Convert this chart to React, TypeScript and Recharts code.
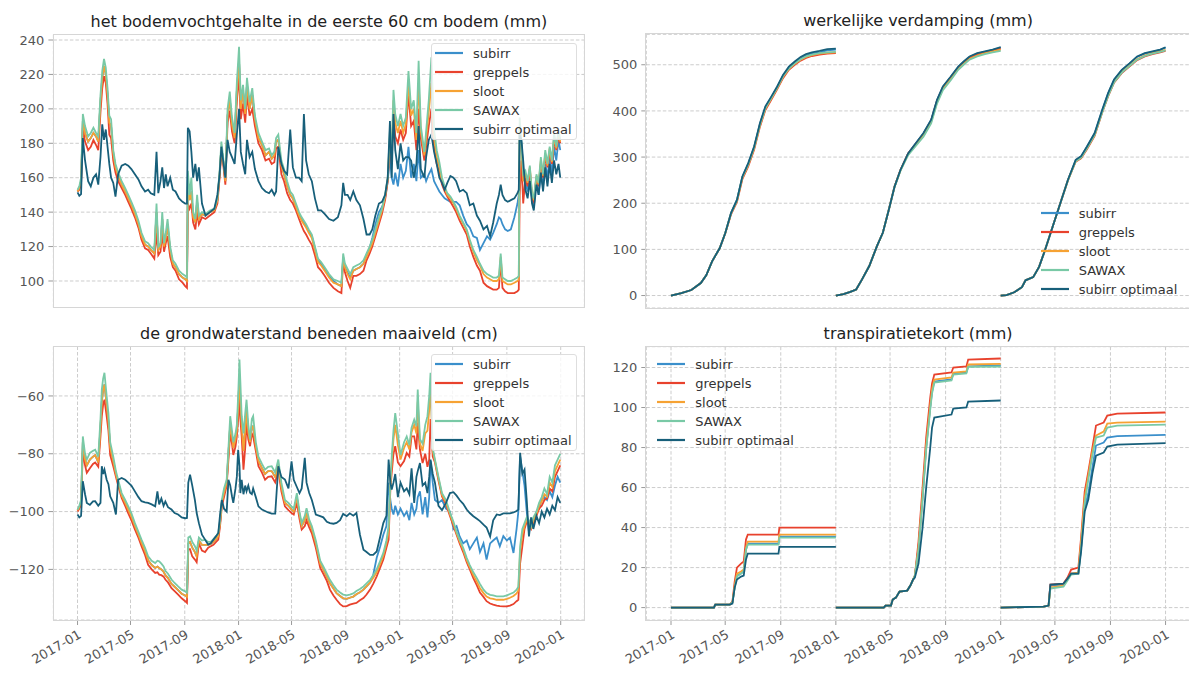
import React from 'react';
import { LineChart, Line, XAxis, YAxis, CartesianGrid } from 'recharts';

const FONT = '"DejaVu Sans", sans-serif';
const GRID = '#cccccc';
const TICK = '#555555';

const SERIES = [
  { key: 'subirr', name: 'subirr', color: '#3a8fcb' },
  { key: 'greppels', name: 'greppels', color: '#e8422d' },
  { key: 'sloot', name: 'sloot', color: '#f6a233' },
  { key: 'sawax', name: 'SAWAX', color: '#79c9a6' },
  { key: 'optimaal', name: 'subirr optimaal', color: '#175f7a' },
];

const monthLabels = ['2017-01', '2017-05', '2017-09', '2018-01', '2018-05', '2018-09', '2019-01', '2019-05', '2019-09', '2020-01'];
const seasons = [2017, 2018, 2019];

// soil moisture in the top 60 cm (mm), days since 2017-01-01
const soilDays = [
  0, 4, 8, 12, 17, 24, 30, 36, 42, 47,
  52, 56, 60, 64, 68, 72, 76, 81, 86, 92,
  100, 108, 115, 122, 130, 138, 145, 153, 160, 166,
  174, 179, 183, 188, 192, 196, 200, 204, 210, 216,
  222, 230, 238, 244, 248, 250, 254, 258, 262, 267,
  271, 275, 282, 290, 300, 310, 317, 322, 326, 330,
  335, 340, 345, 350, 356, 361, 366, 370, 375, 380,
  384, 390, 396, 402, 410, 418, 426, 434, 440, 446,
  450, 455, 462, 468, 475, 482, 488, 495, 502, 508,
  513, 518, 524, 531, 538, 545, 552, 560, 570, 580,
  590, 598, 602, 606, 612, 618, 625, 632, 640, 648,
  655, 662, 668, 675, 683, 690, 697, 703, 708, 712,
  716, 720, 726, 732, 738, 744, 750, 756, 762, 768,
  773, 778, 786, 790, 796, 802, 808, 814, 820, 826,
  832, 838, 845, 852, 858, 866, 874, 882, 889, 897,
  905, 912, 920, 928, 935, 942, 950, 955, 959, 963,
  969, 975, 982, 990, 997, 1000, 1002, 1006, 1010, 1015,
  1020, 1025, 1030, 1034, 1040, 1045, 1050, 1055, 1060, 1065,
  1070, 1075, 1080, 1085, 1090, 1094,
];
const soilSubirr = [
  152, 154, 158, 193, 186, 181, 183, 186, 184, 181,
  204, 218, 225, 220, 208, 192, 190, 174, 166, 161,
  156, 152, 148, 144, 139, 133, 126, 121, 120, 118,
  116, 140, 118, 120, 136, 120, 125, 132, 118, 110,
  108, 104, 102, 101, 100, 155, 147, 152, 137, 134,
  146, 136, 139, 138, 140, 141, 147, 162, 178, 170,
  158, 196, 206, 191, 183, 210, 228, 200, 210, 197,
  214, 200, 208, 194, 183, 179, 173, 175, 171, 173,
  181, 182, 167, 162, 155, 150, 148, 143, 138, 136,
  134, 132, 129, 126, 119, 112, 110, 107, 103, 100,
  98, 97, 114, 108, 105, 102, 106, 107, 108, 110,
  115, 119, 125, 133, 140, 143, 148, 158, 172, 160,
  156, 163, 155, 168, 160, 164, 178, 160, 168, 158,
  176, 160, 162, 158, 162, 165, 158, 155, 152, 150,
  148, 147, 146, 146, 146, 144, 138, 133, 131, 126,
  125, 118, 122, 126, 124, 128, 133, 137, 136, 133,
  130, 129, 130, 137, 145, 150, 188, 180, 165, 158,
  152, 160, 148, 143, 158, 150, 163, 155, 168, 160,
  172, 162, 178, 170, 182, 176,
];
const soilGreppels = [
  152, 153, 156, 189, 181, 176, 178, 182, 179, 176,
  198, 212, 219, 215, 203, 185, 183, 170, 163, 158,
  154, 150, 146, 142, 137, 131, 124, 119, 118, 116,
  113, 128, 115, 117, 128, 117, 122, 126, 114, 108,
  106, 101, 99, 97, 96, 145, 142, 145, 134, 130,
  140, 133, 137, 136, 138, 140, 145, 160, 175, 168,
  156, 192, 199, 187, 180, 204, 220, 194, 203, 192,
  208, 196, 200, 190, 180, 176, 170, 171, 168, 169,
  177, 178, 162, 158, 151, 147, 145, 141, 136, 132,
  129, 127, 124, 121, 115, 108, 106, 103, 99, 96,
  94, 93, 112, 105, 100, 96, 103, 103, 104, 106,
  112, 116, 120, 126, 133, 139, 147, 158, 180, 168,
  199, 184, 180, 188, 182, 186, 209, 190, 193, 176,
  200, 183, 170, 178, 190, 200, 178, 168, 163, 156,
  152, 149, 146, 143, 140, 135, 131, 127, 120, 114,
  109, 106, 99, 97, 96, 95, 95, 96, 112, 96,
  94, 93, 93, 93, 94, 95, 150, 170, 145, 160,
  155, 165, 148, 146, 160, 155, 168, 160, 172, 166,
  175, 168, 182, 176, 184, 180,
];
const soilSloot = [
  152, 154, 158, 193, 186, 181, 183, 186, 184, 181,
  204, 218, 225, 220, 208, 192, 190, 174, 166, 161,
  156, 152, 148, 144, 139, 133, 126, 121, 120, 118,
  116, 140, 118, 120, 136, 120, 125, 132, 118, 110,
  108, 104, 102, 101, 100, 155, 147, 152, 137, 134,
  146, 136, 139, 138, 140, 141, 147, 162, 178, 170,
  158, 196, 206, 191, 183, 210, 228, 200, 210, 197,
  214, 200, 208, 194, 183, 179, 173, 175, 171, 173,
  181, 182, 167, 162, 155, 150, 148, 143, 138, 135,
  133, 131, 128, 125, 118, 111, 109, 106, 102, 99,
  98, 97, 113, 108, 104, 101, 106, 107, 108, 110,
  114, 118, 122, 128, 135, 141, 149, 159, 184, 172,
  205, 192, 186, 193, 186, 191, 215, 196, 200, 182,
  215, 187, 173, 183, 198, 215, 183, 172, 166, 158,
  154, 150, 148, 145, 142, 137, 133, 129, 123, 117,
  112, 109, 104, 102, 101, 100, 100, 101, 114, 100,
  99, 98, 98, 99, 100, 101, 190, 178, 158, 162,
  157, 166, 150, 147, 161, 156, 170, 161, 174, 167,
  177, 169, 184, 177, 186, 181,
];
const soilSawax = [
  153, 155, 160, 197, 190, 184, 186, 189, 186, 184,
  208, 222, 229, 224, 212, 196, 194, 176, 168, 163,
  158, 154, 150, 146, 141, 135, 128, 123, 122, 120,
  118, 145, 120, 122, 140, 122, 128, 136, 120, 112,
  110, 106, 104, 103, 102, 164, 150, 160, 140, 136,
  150, 138, 140, 139, 141, 142, 148, 164, 181, 172,
  160, 200, 210, 195, 186, 215, 236, 205, 214, 200,
  218, 204, 212, 196, 186, 181, 176, 177, 173, 175,
  183, 185, 170, 165, 158, 152, 150, 145, 140, 137,
  135, 133, 130, 127, 120, 113, 111, 108, 104, 101,
  100, 99, 116, 110, 107, 104, 108, 109, 110, 112,
  116, 120, 124, 130, 137, 142, 150, 160, 188, 175,
  211, 197, 190, 197, 190, 195, 222, 200, 205, 186,
  228, 190, 175, 187, 205, 230, 188, 176, 169, 160,
  155, 151, 149, 146, 143, 138, 134, 130, 124, 118,
  114, 110, 106, 104, 103, 102, 102, 103, 116, 102,
  101, 100, 100, 101, 102, 103, 195, 180, 162, 164,
  158, 167, 151, 148, 162, 157, 172, 162, 176, 168,
  178, 170, 186, 178, 188, 182,
];
const soilOptimaal = [
  151.5, 149.5, 150.5, 183, 170, 158, 155, 160, 162, 156,
  172, 191, 182, 188, 178, 168, 160, 157, 149, 162,
  167, 168, 167, 165, 162, 159, 155, 152, 153, 151,
  150, 175, 151, 158, 166, 154, 162, 155, 160, 153,
  152, 148, 146, 145, 145, 189, 187, 175, 160, 168,
  158, 166, 145, 138, 140, 142, 150, 162, 178, 170,
  160, 182, 175, 172, 168, 185, 200, 175, 168, 162,
  182, 172, 175, 165, 158, 154, 152, 151, 153, 150,
  152, 178, 168, 164, 162, 188, 166, 160, 160, 158,
  197, 170, 162, 158, 148, 141, 141, 139, 136, 135,
  137, 144, 157, 150, 150, 147, 152, 147, 144, 136,
  127, 127, 130, 138, 145, 146, 150, 160, 193, 160,
  197, 176, 165, 180, 170, 172, 172, 170, 160, 168,
  190, 165, 160, 172, 182, 185, 175, 168, 160, 157,
  153, 157, 161, 160, 158, 152, 153, 151, 144, 145,
  138, 135, 130, 132, 126, 134, 145, 150, 156, 150,
  147, 146, 147, 148, 151, 153, 185, 182, 170, 153,
  148, 158, 145, 141, 156, 150, 163, 152, 166, 155,
  168, 157, 170, 162, 168, 160,
];

// groundwater level below surface (cm), days since 2017-01-01
const gwDays = [
  0, 4, 8, 12, 17, 21, 28, 35, 40, 47,
  52, 55, 58, 61, 66, 70, 74, 81, 87, 92,
  100, 108, 115, 122, 130, 138, 145, 153, 160, 168,
  176, 181, 185, 190, 195, 199, 205, 213, 220, 228,
  236, 244, 248, 251, 255, 260, 266, 270, 275, 282,
  289, 296, 302, 308, 314, 319, 323, 327, 332, 338,
  342, 346, 350, 353, 358, 361, 364, 367, 369, 372,
  376, 380, 383, 387, 391, 395, 398, 404, 410, 418,
  425, 432, 440, 448, 455, 462, 470, 478, 485, 490,
  497, 503, 508, 515, 519, 525, 531, 540, 550, 557,
  565, 572, 580, 587, 595, 602, 610, 617, 625, 632,
  640, 648, 655, 663, 670, 678, 686, 693, 700, 705,
  709, 712, 716, 720, 726, 732, 740, 746, 752, 757,
  763, 768, 771, 776, 782, 788, 793, 797, 800, 805,
  810, 818, 826, 835, 844, 852, 859, 866, 874, 882,
  889, 897, 905, 912, 920, 927, 935, 942, 950, 957,
  965, 973, 980, 988, 995, 999, 1003, 1008, 1013, 1018,
  1023, 1028, 1033, 1040, 1046, 1052, 1058, 1064, 1070, 1076,
  1082, 1088, 1094,
];
const gwSubirr = [
  -99.6, -98.5, -96.7, -76, -82, -84, -82, -81, -80.5, -83,
  -71, -62, -58, -56, -63, -69, -78, -82.5, -87, -90,
  -94.5, -97, -99.4, -101.7, -105, -108, -110.8, -113.7, -116.8, -118.5,
  -119.5, -119, -119.5, -120, -120.8, -122, -123, -125, -126, -127.2,
  -128.4, -129, -129.5, -111, -110.5, -112.5, -114, -115.5, -110, -111.5,
  -111.5, -111.5, -111.2, -110.5, -109.5, -108.5, -104, -97, -93.5, -90,
  -80, -70, -74, -78, -75, -72, -64, -53, -61, -70,
  -79, -72, -65, -72.5, -76, -70.5, -70.5, -77.5, -82.5, -85,
  -87, -86, -86, -88, -84, -91.5, -97, -98, -99.3, -100,
  -95, -101, -105, -103, -100.5, -104, -106, -111, -118, -120,
  -122.5, -124.8, -126.6, -128.2, -129.2, -130, -130.2, -129.8, -129.4, -128.6,
  -127.9, -127, -125.9, -124.5, -122, -116, -112, -108, -105, -90,
  -96, -99, -101, -98, -101, -99, -101.5, -100, -103, -97,
  -101, -99, -95, -93, -101, -95, -102, -95, -82.5, -90,
  -96, -97, -96, -99, -100, -106, -105, -108.6, -111, -110,
  -113, -111, -109, -114, -111, -116.6, -111, -110, -109, -112,
  -108.5, -110, -109, -114.3, -106, -100, -81, -86, -91, -100,
  -107, -103, -105, -100, -99, -96, -95, -96, -93, -95,
  -91, -88, -90,
];
const gwGreppels = [
  -100, -99, -97.5, -79, -84, -86.6, -85, -83.5, -83, -84.5,
  -74, -67, -63, -61.3, -67, -72, -80.5, -84.3, -88, -91,
  -95.3, -98, -100.6, -103, -106.2, -109, -112, -115, -118.4, -120,
  -121.2, -121, -121.8, -122, -122.5, -123.5, -124.5, -126.5, -127.5, -128.7,
  -130, -131, -131.6, -113, -113, -115.5, -116.6, -117.5, -111, -113.5,
  -114, -112.5, -112, -111.5, -110.5, -109.7, -105, -98.2, -95, -91,
  -82, -72.6, -76.5, -80.4, -77.5, -74, -68, -60, -68, -74,
  -85.5, -78, -69.3, -75, -77.4, -73, -74, -79, -84.3, -86.5,
  -89, -88, -87.8, -89.9, -85.5, -93, -98.2, -99.5, -100.5, -101,
  -97, -102.5, -106.2, -105, -103, -105.5, -107.5, -112.5, -119.5, -121.5,
  -124, -127, -129, -130.5, -132, -132.8, -132.7, -132.2, -131.8, -131.6,
  -130.7, -129.9, -128.7, -127, -125, -122.4, -119.3, -116.6, -112.5, -109.7,
  -92, -86.6, -80, -77.4, -83, -84.3, -82.5, -79.7, -81, -74,
  -74, -78.5, -69.3, -78.6, -83.2, -80, -84.5, -82, -68, -81,
  -83, -89.3, -94.8, -97.5, -101.5, -105, -108, -111, -114, -117.5,
  -120, -123, -125.5, -128, -129.5, -131, -131.8, -132.2, -132.5, -132.7,
  -132.8, -132.8, -132.5, -132, -131, -130.5, -118, -112, -106, -103.5,
  -104.5, -106, -104, -101.5, -99, -98, -96, -95.5, -92, -93,
  -88, -86, -84,
];
const gwSloot = [
  -99.6, -98.5, -96.7, -76, -82, -84, -82, -81, -80.5, -83,
  -71, -62, -58, -56, -63, -69, -78, -82.5, -87, -90,
  -94.5, -97, -99.4, -101.7, -105, -108, -110.8, -113.7, -116.8, -118.5,
  -119.5, -119, -119.5, -120, -120.8, -122, -123, -125, -126, -127.2,
  -128.4, -129, -129.5, -111, -110.5, -112.5, -114, -115.5, -110, -111.5,
  -111.5, -111.5, -111.2, -110.5, -109.5, -108.5, -104, -97, -93.5, -90,
  -80, -70, -74, -78, -75, -72, -64, -53, -61, -70,
  -79, -72, -65, -72.5, -76, -70.5, -70.5, -77.5, -82.5, -85,
  -87, -86, -86, -88, -84, -91.5, -97, -98, -99.3, -100,
  -95, -101, -105, -103, -100.5, -104, -106, -111, -118, -120,
  -122.5, -124.8, -126.6, -128.2, -129.2, -130, -130.2, -129.8, -129.4, -128.6,
  -127.9, -127, -125.9, -124.5, -123, -121, -118, -115.3, -111, -107,
  -91, -83, -75, -70, -77, -82, -78, -76, -78.5, -72.5,
  -70, -73, -62, -76.5, -79, -73, -72, -65, -57, -79,
  -82.5, -88.6, -94.2, -96.8, -100.9, -104.2, -107.5, -110.3, -113.2, -116.8,
  -119.2, -122, -124.2, -126.5, -128.2, -129.4, -130, -130.2, -130.5, -130.5,
  -130.5, -130.2, -129.8, -129.2, -128.3, -127.3, -114, -108, -105, -102.8,
  -103.8, -105.5, -103, -100.8, -98, -96.5, -94, -94.8, -90, -91.5,
  -86, -84, -82,
];
const gwSawax = [
  -99.3, -98, -96, -74, -80, -82, -79.7, -79, -78.6, -81,
  -68, -57.8, -54, -52, -60, -66, -76, -81, -86, -89,
  -93.6, -96, -98.2, -100.5, -104, -107, -109.7, -112.5, -115.5, -117,
  -117.8, -117, -117.2, -118, -119, -120.5, -121.5, -123.5, -124.7, -125.9,
  -127, -127.6, -128, -109, -108.6, -110.5, -112, -113.5, -109, -110,
  -109.7, -110.5, -110.5, -109.5, -108.5, -107.4, -103, -96, -92, -89,
  -78, -67, -72, -76, -73, -70, -60, -47.4, -55, -67,
  -73, -66, -61.3, -70, -75, -68, -67, -76, -81, -83.5,
  -85.5, -84.5, -84.3, -86.5, -82, -90, -96, -97, -98.2, -99,
  -93.6, -100, -104, -101.5, -98.8, -102.8, -105, -110, -117, -119,
  -121.5, -123.6, -125.5, -127, -128, -128.7, -129, -128.7, -128.3, -127.5,
  -126.8, -125.9, -124.8, -123.6, -122, -120, -117, -114.3, -110, -105,
  -90, -81, -72, -65.9, -73, -80.4, -76, -74, -77, -71,
  -68.2, -70.5, -57.8, -75, -76.5, -70, -67, -60, -52, -78,
  -82, -88, -93.6, -96, -100.3, -103.5, -107, -109.7, -112.5, -116,
  -118.5, -121, -123, -125, -127, -128.2, -128.8, -129, -129.3, -129.3,
  -129.3, -129, -128.5, -128, -127, -126, -112, -106, -104, -102,
  -103, -105, -102, -100, -97, -95, -92, -94, -88, -90,
  -84, -82, -80,
];
const gwOptimaal = [
  -101, -102, -101.5, -89.5, -94, -97, -97.7, -96.5, -96.4, -98,
  -97, -84.3, -87, -85.5, -89, -90.5, -94.7, -97, -101, -89,
  -88.4, -89, -90, -91, -93, -95, -96.4, -96.8, -97, -97.5,
  -98.2, -93, -97.5, -95.5, -98, -96.5, -98.5, -99.3, -100.5, -101,
  -102, -102.3, -102.2, -90, -87.2, -91, -96, -100.5, -104, -108,
  -109.7, -111.4, -111, -109.7, -108.5, -107.4, -101, -96, -99, -100,
  -89, -91, -94.7, -97, -92, -88, -78.6, -84, -93.6, -89,
  -94, -91, -93, -91, -93.5, -94, -92, -95, -98.2, -99.3,
  -99.8, -100.3, -100.7, -100.7, -84.3, -88, -88.9, -92, -82.6, -89,
  -91.5, -93.6, -92, -81.4, -90, -93.6, -96, -101, -101.6, -102,
  -103.5, -104, -104.2, -103.9, -103, -100.8, -101.6, -100.6, -101.4, -100.5,
  -108, -113.2, -114, -115, -115, -113.8, -108.6, -104, -101.5, -82,
  -90, -92.4, -90, -87, -95, -90, -93, -92, -94, -85,
  -97, -88, -86, -83.2, -91, -90, -93.6, -88, -82, -87,
  -90, -98, -99.5, -97, -93.6, -93.3, -94.5, -96, -97.3, -99.3,
  -100.5, -101.6, -102.5, -103.3, -104.5, -105.5, -108.6, -103, -101, -101.2,
  -100.6, -100.6, -100.6, -100.3, -99.8, -99.3, -79.7, -87, -85.5, -96,
  -108.6, -102, -106, -101.5, -104, -100, -102, -99, -101, -98,
  -99.5, -95, -97,
];

// cumulative actual evaporation (mm) per season, days since 1 January
const evapDays = [
  [0, 23, 45, 66, 78, 91, 108, 120, 133, 146, 158, 171, 184, 197, 209, 222, 235, 248, 261, 274, 287, 299, 312, 329, 346, 365],
  [0, 17, 32, 45, 58, 74, 91, 104, 117, 130, 143, 160, 177, 194, 211, 224, 237, 254, 271, 283, 296, 313, 330, 347, 365],
  [0, 13, 30, 47, 55, 72, 85, 98, 115, 132, 149, 166, 178, 191, 208, 225, 238, 251, 268, 285, 302, 319, 336, 353, 365],
];
const evapSubirr = [
  [0, 5, 12, 27, 44, 74, 103, 135, 179, 207, 257, 286, 321, 372, 408, 429, 451, 476, 494, 505, 514, 520, 524, 527, 531, 533],
  [0, 3, 8, 13, 35, 64, 107, 136, 185, 236, 272, 308, 330, 351, 380, 423, 452, 473, 495, 506, 517, 524, 528, 532, 537],
  [0, 1, 7, 18, 33, 40, 62, 98, 149, 200, 251, 293, 301, 322, 351, 402, 438, 467, 488, 502, 517, 524, 528, 532, 537],
];
const evapGreppels = [
  [0, 5, 12, 27, 44, 74, 103, 134, 176, 203, 252, 280, 316, 366, 402, 424, 447, 471, 489, 500, 509, 515, 519, 522, 524, 525],
  [0, 3, 8, 13, 35, 64, 107, 136, 185, 236, 272, 308, 329, 350, 379, 422, 451, 472, 494, 505, 515, 522, 527, 531, 535],
  [0, 1, 7, 18, 33, 40, 62, 98, 149, 200, 250, 290, 297, 317, 346, 397, 432, 461, 482, 496, 510, 518, 523, 527, 530],
];
const evapSloot = [
  [0, 5, 12, 27, 44, 74, 103, 135, 178, 205, 255, 283, 319, 369, 405, 427, 449, 474, 491, 502, 511, 517, 521, 524, 526, 527],
  [0, 3, 8, 13, 35, 64, 107, 136, 185, 236, 271, 306, 327, 347, 376, 419, 448, 469, 491, 502, 513, 520, 525, 529, 533],
  [0, 1, 7, 18, 33, 40, 62, 98, 149, 200, 250, 291, 299, 319, 348, 399, 434, 463, 484, 498, 512, 520, 525, 529, 532],
];
const evapSawax = [
  [0, 5, 12, 27, 44, 74, 103, 135, 178, 206, 256, 284, 320, 370, 406, 428, 450, 475, 492, 503, 512, 518, 522, 525, 527, 528],
  [0, 3, 8, 13, 35, 64, 107, 136, 185, 235, 270, 304, 324, 344, 373, 416, 445, 466, 489, 500, 511, 518, 523, 527, 530],
  [0, 1, 7, 18, 33, 40, 62, 98, 149, 200, 250, 291, 299, 319, 348, 398, 433, 462, 483, 497, 511, 519, 524, 528, 531],
];
const evapOptimaal = [
  [0, 5, 12, 27, 44, 74, 103, 135, 179, 207, 258, 287, 323, 374, 410, 431, 453, 478, 496, 507, 517, 523, 527, 530, 534, 535],
  [0, 3, 8, 13, 35, 64, 107, 136, 185, 236, 272, 308, 330, 352, 381, 424, 453, 474, 496, 507, 518, 525, 529, 533, 538],
  [0, 1, 7, 18, 33, 40, 62, 98, 149, 200, 251, 294, 302, 323, 352, 403, 439, 468, 489, 503, 518, 525, 529, 533, 538],
];

// cumulative transpiration deficit (mm) per season, days since 1 January
const deficitDays = [
  [0, 95, 98, 130, 136, 141, 146, 155, 161, 166, 170, 238, 240, 365],
  [0, 106, 110, 122, 126, 133, 141, 158, 165, 171, 175, 183, 192, 200, 209, 213, 218, 256, 260, 289, 293, 365],
  [0, 95, 106, 110, 139, 148, 156, 172, 178, 186, 194, 203, 211, 228, 236, 258, 365],
];
const deficitSubirr = [
  [0, 0, 1.5, 1.5, 2.5, 10.5, 16, 17, 18, 29, 32, 32, 35.5, 35.5],
  [0, 0, 1, 1, 4, 5, 8, 8.5, 11, 14, 16, 30, 55, 80, 100, 108, 113, 114, 117, 117.5, 120.6, 121],
  [0, 0.5, 1, 11, 11.5, 14, 17, 17.5, 30, 50, 57, 70, 81, 82.5, 85, 85.7, 86.3],
];
const deficitGreppels = [
  [0, 0, 1.5, 1.5, 3, 13, 20, 22, 23, 34, 36.5, 36.5, 40, 40],
  [0, 0, 1, 1, 4, 5, 8, 8.5, 11, 14, 16, 33, 60, 85, 105, 112, 116.5, 117.5, 120, 120.5, 124, 124.5],
  [0, 0.5, 1, 11.5, 12, 15, 19, 20, 35, 58, 68, 80, 91, 92.5, 96, 97, 97.5],
];
const deficitSloot = [
  [0, 0, 1.5, 1.5, 2.5, 11, 17, 18, 19, 30, 33, 33, 36.5, 36.5],
  [0, 0, 1, 1, 4, 5, 8, 8.5, 11, 14, 16, 30, 56, 81, 101, 109, 114, 115, 117.5, 118, 121.5, 121.8],
  [0, 0.5, 1, 10, 11, 14, 17, 17.5, 33, 55, 66, 78, 86, 88, 92, 92.5, 93],
];
const deficitSawax = [
  [0, 0, 1.5, 1.5, 2.5, 10, 15.5, 17, 18, 29, 31.5, 31.5, 35, 35],
  [0, 0, 1, 1, 4, 5, 8, 8.5, 11, 14, 16, 29, 54, 79, 99, 107, 112.5, 113.5, 116.5, 117, 120.3, 120.5],
  [0, 0.5, 1, 9.5, 10.5, 13.5, 16.5, 17, 30, 52, 64, 76, 85, 86, 90, 91, 91.5],
];
const deficitOptimaal = [
  [0, 0, 1.5, 1.5, 2, 10, 14, 15.5, 16, 24, 27, 27, 30.3, 30.3],
  [0, 0, 1, 1, 4, 5, 8, 8.5, 11, 14, 15, 22, 40, 60, 80, 90, 95, 96.5, 99.5, 100, 103, 103.5],
  [0, 0.5, 1, 11.5, 12, 14.5, 17, 17, 28, 48, 54, 67, 76, 77.5, 80.5, 81.5, 82.2],
];

const DAY = 86400000;
const ORIGIN = Date.UTC(2017, 0, 1);
const monthTicks = monthLabels.map((l) => {
  const [y, m] = l.split('-').map(Number);
  return (Date.UTC(y, m - 1, 1) - ORIGIN) / DAY;
});
const X_DOMAIN = [-54.7, 1148.7];

function dailyRows(days, subirr, greppels, sloot, sawax, optimaal) {
  return days.map((day, i) => ({
    day,
    subirr: subirr[i],
    greppels: greppels[i],
    sloot: sloot[i],
    sawax: sawax[i],
    optimaal: optimaal[i],
  }));
}

// one curve per season, broken between the seasons
function seasonRows(days, subirr, greppels, sloot, sawax, optimaal) {
  const rows = [];
  seasons.forEach((year, y) => {
    const start = (Date.UTC(year, 0, 1) - ORIGIN) / DAY;
    days[y].forEach((d, i) => {
      rows.push({
        day: start + d,
        subirr: subirr[y][i],
        greppels: greppels[y][i],
        sloot: sloot[y][i],
        sawax: sawax[y][i],
        optimaal: optimaal[y][i],
      });
    });
    if (y < seasons.length - 1) {
      rows.push({ day: start + 365, subirr: null, greppels: null, sloot: null, sawax: null, optimaal: null });
    }
  });
  return rows;
}

const soilRows = dailyRows(soilDays, soilSubirr, soilGreppels, soilSloot, soilSawax, soilOptimaal);
const gwRows = dailyRows(gwDays, gwSubirr, gwGreppels, gwSloot, gwSawax, gwOptimaal);
const evapRows = seasonRows(evapDays, evapSubirr, evapGreppels, evapSloot, evapSawax, evapOptimaal);
const deficitRows = seasonRows(deficitDays, deficitSubirr, deficitGreppels, deficitSloot, deficitSawax, deficitOptimaal);

const fmtNum = (v) => (v < 0 ? '\u2212' + Math.abs(v) : String(v));

const DateTick = (props) => {
  const { x, y, payload } = props;
  const label = monthLabels[monthTicks.indexOf(payload.value)];
  return (
    <g transform={`translate(${x},${y})`}>
      <text transform="rotate(-30)" textAnchor="end" dy="0.72em" fill={TICK} fontSize={13} fontFamily={FONT}>
        {label}
      </text>
    </g>
  );
};

const LegendBox = ({ left, top, framed }) => (
  <div
    style={{
      position: 'absolute',
      left,
      top,
      width: 146,
      boxSizing: 'border-box',
      border: framed ? '1px solid #dedede' : '1px solid transparent',
      borderRadius: 3,
      background: framed ? 'rgba(255,255,255,0.8)' : 'transparent',
      fontFamily: FONT,
    }}
  >
    {SERIES.map((s) => (
      <div key={s.key} style={{ height: 19, display: 'flex', alignItems: 'center' }}>
        <svg width={28} height={4} style={{ marginLeft: 3, flex: 'none' }}>
          <line x1={0} y1={2} x2={28} y2={2} stroke={s.color} strokeWidth={2.2} />
        </svg>
        <span style={{ marginLeft: 10, fontSize: 13, lineHeight: '19px', color: '#333', whiteSpace: 'nowrap' }}>{s.name}</span>
      </div>
    ))}
  </div>
);

function Panel({ title, rows, x0, y0, w, h, plot, yDomain, yTicks, showDates, legend }) {
  const xh = showDates ? 50 : 10;
  const margin = {
    top: plot.t - y0,
    right: x0 + w - plot.r,
    bottom: y0 + h - plot.b - xh,
    left: 0,
  };
  return (
    <>
      <div
        style={{
          position: 'absolute',
          left: plot.l,
          width: plot.r - plot.l,
          top: plot.t - 21,
          textAlign: 'center',
          fontFamily: FONT,
          fontSize: 16,
          lineHeight: '16px',
          color: '#222',
          whiteSpace: 'nowrap',
        }}
      >
        {title}
      </div>
      <div style={{ position: 'absolute', left: x0, top: y0 }}>
        <LineChart width={w} height={h} data={rows} margin={margin}>
          <CartesianGrid stroke={GRID} strokeDasharray="3.5 2" />
          <XAxis
            type="number"
            dataKey="day"
            domain={X_DOMAIN}
            ticks={monthTicks}
            allowDataOverflow
            interval={0}
            height={xh}
            axisLine={false}
            tickLine={{ stroke: '#9a9a9a' }}
            tickSize={5}
            tickMargin={4}
            tick={showDates ? <DateTick /> : false}
          />
          <YAxis
            type="number"
            domain={yDomain}
            ticks={yTicks}
            allowDataOverflow
            interval={0}
            width={plot.l - x0}
            axisLine={false}
            tickLine={{ stroke: '#9a9a9a' }}
            tickSize={5}
            tickMargin={4}
            tickFormatter={fmtNum}
            tick={{ fill: TICK, fontSize: 13, fontFamily: FONT }}
          />
          {SERIES.map((s) => (
            <Line
              key={s.key}
              type="linear"
              dataKey={s.key}
              name={s.name}
              stroke={s.color}
              strokeWidth={1.8}
              dot={false}
              connectNulls={false}
              isAnimationActive={false}
            />
          ))}
        </LineChart>
      </div>
      <div
        style={{
          position: 'absolute',
          left: plot.l - 0.9,
          top: plot.t - 0.9,
          width: plot.r - plot.l + 1.8,
          height: plot.b - plot.t + 1.8,
          boxSizing: 'border-box',
          border: '1.8px solid #d6d6d6',
          pointerEvents: 'none',
        }}
      />
      <LegendBox {...legend} />
    </>
  );
}

export default function App() {
  return (
    <div
      style={{
        position: 'absolute',
        left: 0,
        top: 0,
        width: 1189,
        height: 673,
        overflow: 'hidden',
        background: '#ffffff',
      }}
    >
      <Panel
        title="het bodemvochtgehalte in de eerste 60 cm bodem (mm)"
        rows={soilRows}
        x0={0}
        y0={0}
        w={600}
        h={330}
        plot={{ l: 53.4, t: 34.5, r: 584.4, b: 307.5 }}
        yDomain={[84.6, 243.2]}
        yTicks={[100, 120, 140, 160, 180, 200, 220, 240]}
        showDates={false}
        legend={{ left: 431, top: 42.5, framed: true }}
      />
      <Panel
        title="werkelijke verdamping (mm)"
        rows={evapRows}
        x0={595}
        y0={0}
        w={600}
        h={330}
        plot={{ l: 646.3, t: 34.3, r: 1189.8, b: 308 }}
        yDomain={[-27, 566]}
        yTicks={[0, 100, 200, 300, 400, 500]}
        showDates={false}
        legend={{ left: 1036.7, top: 202.8, framed: false }}
      />
      <Panel
        title="de grondwaterstand beneden maaiveld (cm)"
        rows={gwRows}
        x0={0}
        y0={330}
        w={600}
        h={343}
        plot={{ l: 53.4, t: 346.5, r: 584.4, b: 620 }}
        yDomain={[-137.5, -42.9]}
        yTicks={[-120, -100, -80, -60]}
        showDates
        legend={{ left: 431, top: 353.5, framed: true }}
      />
      <Panel
        title="transpiratietekort (mm)"
        rows={deficitRows}
        x0={595}
        y0={330}
        w={600}
        h={343}
        plot={{ l: 646.3, t: 346.7, r: 1189.8, b: 620 }}
        yDomain={[-6.2, 130.4]}
        yTicks={[0, 20, 40, 60, 80, 100, 120]}
        showDates
        legend={{ left: 653.3, top: 353.5, framed: false }}
      />
    </div>
  );
}
